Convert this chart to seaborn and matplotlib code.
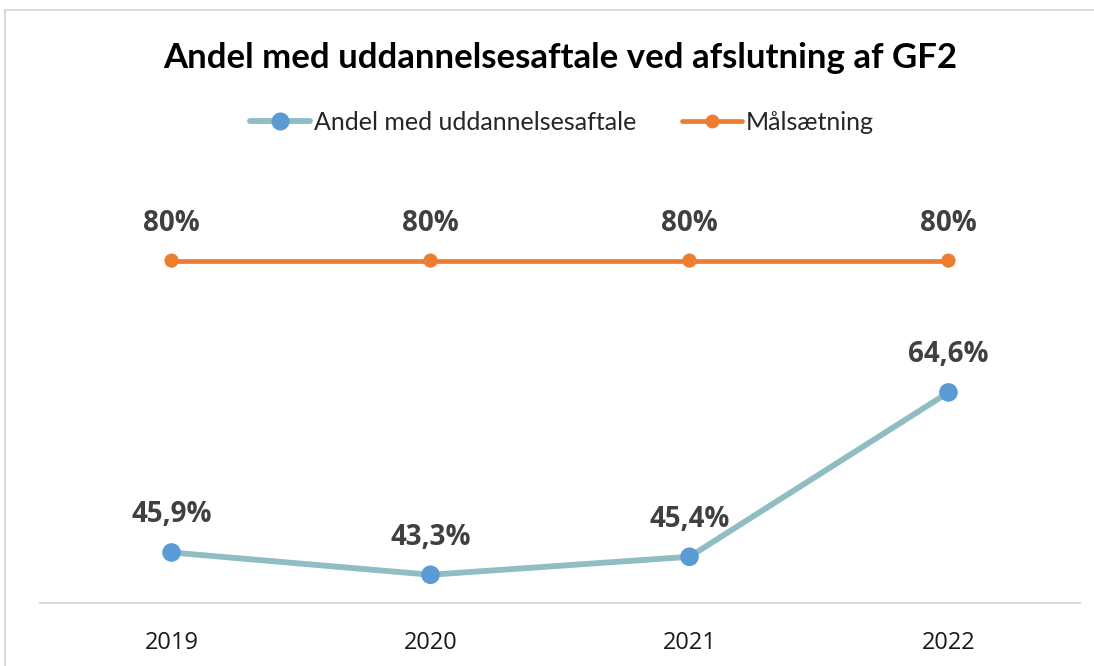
import matplotlib.pyplot as plt
import matplotlib.patches as patches
from matplotlib.lines import Line2D
import pandas as pd
import seaborn as sns

# Data
years = ["2019", "2020", "2021", "2022"]
andel = [45.9, 43.3, 45.4, 64.6]
maal = [80, 80, 80, 80]
series_names = ["Andel med uddannelsesaftale", "Målsætning"]

line_colors = {"Andel med uddannelsesaftale": "#8FBDC1", "Målsætning": "#ED7D31"}
marker_colors = {"Andel med uddannelsesaftale": "#5B9BD5", "Målsætning": "#ED7D31"}

df = pd.DataFrame({
    "pos": list(range(len(years))) * 2,
    "value": andel + maal,
    "series": [series_names[0]] * len(years) + [series_names[1]] * len(years),
})

sns.set_style("white")
plt.rcParams['font.family'] = ['Open Sans', 'DejaVu Sans']

fig = plt.figure(figsize=(10.94, 6.66), dpi=100)
ax = fig.add_axes([40 / 1094, 1 - 603 / 666, 1040 / 1094, (603 - 175) / 666])

# lines
for name, lw in zip(series_names, [4.2, 3.4]):
    sub = df[df["series"] == name]
    sns.lineplot(data=sub, x="pos", y="value", color=line_colors[name], linewidth=lw,
                 ax=ax, legend=False, zorder=2)
# markers
for name, ms in zip(series_names, [180, 105]):
    sub = df[df["series"] == name]
    sns.scatterplot(data=sub, x="pos", y="value", color=marker_colors[name], s=ms,
                    edgecolor="none", ax=ax, legend=False, zorder=3)

# data labels
for vals, fmt in [(andel, "{:.1f}%"), (maal, "{:.0f}%")]:
    for i, v in enumerate(vals):
        ax.annotate(fmt.format(v).replace(".", ","), xy=(i, v), xytext=(0, 27),
                    textcoords="offset points", ha="center", va="center",
                    fontsize=20, fontweight="bold", color="#404040")

ax.set_xlim(-0.508, 3.508)
ax.set_ylim(40, 90)
ax.set_xticks(range(len(years)))
ax.set_xticklabels(years, fontsize=17, color="#1a1a1a")
ax.set_yticks([])
ax.set_xlabel("")
ax.set_ylabel("")
ax.tick_params(axis="x", length=0, pad=20)
for s in ["top", "left", "right"]:
    ax.spines[s].set_visible(False)
ax.spines["bottom"].set_color("#D9D9D9")
ax.spines["bottom"].set_linewidth(1.5)

fig.text(560 / 1094, 1 - 58 / 666, "Andel med uddannelsesaftale ved afslutning af GF2",
         ha="center", va="center", fontsize=25, fontweight="bold", color="black",
         family=["Lato", "DejaVu Sans"])

handles = [
    Line2D([0], [0], color=line_colors[series_names[0]], lw=4.2, marker="o", markersize=13,
           markerfacecolor=marker_colors[series_names[0]], markeredgecolor="none"),
    Line2D([0], [0], color=line_colors[series_names[1]], lw=3.4, marker="o", markersize=10,
           markerfacecolor=marker_colors[series_names[1]], markeredgecolor="none"),
]
fig.legend(handles, series_names, loc="center", bbox_to_anchor=(562 / 1094, 1 - 122 / 666),
           ncol=2, frameon=False, handlelength=2.4, handletextpad=0.15, columnspacing=1.85,
           prop={"family": ["Lato", "DejaVu Sans"], "size": 18})

# chart frame
fig.patches.append(patches.Rectangle((5 / 1094, -0.05), 1.1, 1 - 10 / 666 + 0.05,
                                     transform=fig.transFigure, fill=False,
                                     edgecolor="#D9D9D9", linewidth=1.5))

fig.savefig("out.png", dpi=100, facecolor="white")
